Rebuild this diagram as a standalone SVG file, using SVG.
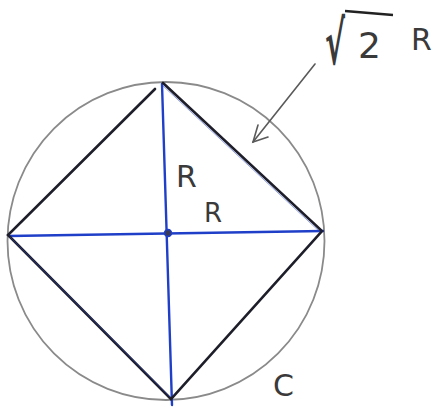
<svg xmlns="http://www.w3.org/2000/svg" width="438" height="409" viewBox="0 0 438 409">
<style>
.circ{fill:none;stroke:#8a8a8a;stroke-width:1.8}
.sq{fill:none;stroke:#1e1e2a;stroke-width:2.6;stroke-linecap:round}
.ax{fill:none;stroke:#1f3fc8;stroke-width:2.4;stroke-linecap:round}
.arr{fill:none;stroke:#5a5a5a;stroke-width:1.6;stroke-linecap:round}
.lbl{font-family:"DejaVu Sans",sans-serif;fill:#3a3a3a}
</style>
<rect width="438" height="409" fill="#fff"/>
<g id="circle-C"><ellipse class="circ" cx="166" cy="241" rx="158.5" ry="159"/></g>
<g id="connectors">
<g id="axes">
<line class="ax" x1="162" y1="84" x2="172" y2="405"/>
<line class="ax" x1="9" y1="236" x2="323" y2="231"/>
</g>
<g id="square">
<path class="sq" d="M163,83 L322,231 L171,399 L8,235 L155,89"/>
<path d="M161,84 L320,232" fill="none" stroke="#1f3fc8" stroke-width="1" opacity="0.5"/>
<path d="M10,237 L170,397" fill="none" stroke="#1f3fc8" stroke-width="1" opacity="0.5"/>
</g>
<g id="arrow">
<line class="arr" x1="315" y1="64" x2="253" y2="142"/>
<polyline class="arr" points="258,125 253,142 268,137"/>
</g>
</g>
<g id="center"><circle cx="168" cy="233" r="3.5" fill="#3a3a5a" stroke="#1f3fc8" stroke-width="1.5"/></g>
<g id="label-sqrt2R">
<text class="lbl" x="0" y="0" font-size="30" font-weight="bold" fill="#222" transform="translate(325,64) scale(1,2)">√</text>
<line x1="345" y1="11" x2="393" y2="15" stroke="#222" stroke-width="2.6"/>
<text class="lbl" x="358" y="58" font-size="36" fill="#222">2</text>
<text class="lbl" x="411" y="50" font-size="30">R</text>
</g>
<g id="label-R1"><text class="lbl" x="176" y="187" font-size="30">R</text></g>
<g id="label-R2"><text class="lbl" x="204" y="222" font-size="26">R</text></g>
<g id="label-C"><text class="lbl" x="273" y="396" font-size="30">C</text></g>
</svg>
